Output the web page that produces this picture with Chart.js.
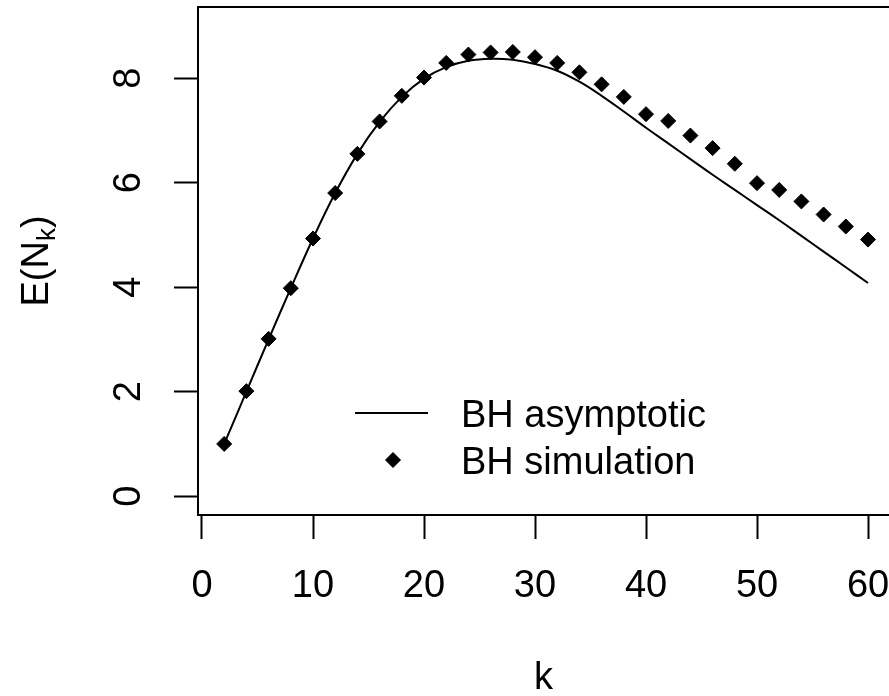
<!DOCTYPE html>
<html>
<head>
<meta charset="utf-8">
<script src="https://cdn.jsdelivr.net/npm/chart.js@4/dist/chart.umd.min.js"></script>
<style>
  html, body { margin: 0; padding: 0; background: #ffffff; overflow: hidden; }
  canvas { display: block; }
</style>
</head>
<body>
<canvas id="chart" width="889" height="696"></canvas>
<script>
// ---- data ----
const kValues = [2, 4, 6, 8, 10, 12, 14, 16, 18, 20, 22, 24, 26, 28, 30,
                 32, 34, 36, 38, 40, 42, 44, 46, 48, 50, 52, 54, 56, 58, 60];
const bhAsymptotic = [1.00, 2.00, 3.00, 3.98, 4.93, 5.80, 6.55, 7.16, 7.64, 7.99,
                      8.21, 8.33, 8.37, 8.35, 8.27, 8.14, 7.93, 7.66, 7.36, 7.05,
                      6.75, 6.45, 6.15, 5.86, 5.57, 5.28, 4.98, 4.68, 4.38, 4.08];
const bhSimulation = [1.00, 2.01, 3.01, 3.98, 4.93, 5.80, 6.55, 7.17, 7.66, 8.01,
                      8.29, 8.45, 8.49, 8.50, 8.40, 8.29, 8.11, 7.88, 7.64, 7.31,
                      7.18, 6.90, 6.66, 6.36, 5.99, 5.86, 5.64, 5.39, 5.16, 4.91];
const xTicks = [0, 10, 20, 30, 40, 50, 60];
const yTicks = [0, 2, 4, 6, 8];
const seriesNames = ['BH asymptotic', 'BH simulation'];
const xTitle = 'k';
const yTitleParts = ['E(N', 'k', ')'];   // E(N_k) with subscript k

const FONT = '"Liberation Sans", Arial, Helvetica, sans-serif';
const toPts = (ys) => kValues.map((k, i) => ({ x: k, y: ys[i] }));

const tickGrid = {
  display: true, drawOnChartArea: false, drawTicks: true,
  tickLength: 24, tickWidth: 2, tickColor: '#000000'
};
const axisBorder = { display: true, color: '#000000', width: 2 };
const noPad = (s) => { s.paddingTop = 0; s.paddingBottom = 0; s.paddingLeft = 0; s.paddingRight = 0; };

// legend + y title drawn as real canvas text
const extras = {
  id: 'extras',
  afterDraw(chart) {
    const ctx = chart.ctx;
    const ds0 = chart.data.datasets[0];
    const ds1 = chart.data.datasets[1];
    ctx.save();
    // legend line sample
    ctx.strokeStyle = ds0.borderColor;
    ctx.lineWidth = ds0.borderWidth;
    ctx.beginPath();
    ctx.moveTo(355, 413);
    ctx.lineTo(428, 413);
    ctx.stroke();
    // legend diamond sample
    const r = ds1.pointRadius;
    const cx = 393, cy = 460;
    ctx.fillStyle = ds1.pointBackgroundColor;
    ctx.strokeStyle = ds1.pointBorderColor;
    ctx.lineWidth = ds1.pointBorderWidth;
    ctx.beginPath();
    ctx.moveTo(cx - r, cy);
    ctx.lineTo(cx, cy - r);
    ctx.lineTo(cx + r, cy);
    ctx.lineTo(cx, cy + r);
    ctx.closePath();
    ctx.fill();
    ctx.stroke();
    // legend texts
    ctx.fillStyle = '#000000';
    ctx.font = '38px ' + FONT;
    ctx.textAlign = 'left';
    ctx.textBaseline = 'alphabetic';
    ctx.fillText(ds0.label, 461, 427);
    ctx.fillText(ds1.label, 461, 474);

    // y-axis title with subscript, rotated
    const mainFont = '38px ' + FONT;
    const subFont = '26px ' + FONT;
    ctx.font = mainFont;
    const w1 = ctx.measureText(yTitleParts[0]).width;
    const w3 = ctx.measureText(yTitleParts[2]).width;
    ctx.font = subFont;
    const w2 = ctx.measureText(yTitleParts[1]).width;
    const total = w1 + w2 + w3;
    const centerY = (chart.chartArea.top + chart.chartArea.bottom) / 2;
    ctx.translate(48, centerY + total / 2);
    ctx.rotate(-Math.PI / 2);
    ctx.font = mainFont;
    ctx.fillText(yTitleParts[0], 0, 0);
    ctx.font = subFont;
    ctx.fillText(yTitleParts[1], w1, 7);
    ctx.font = mainFont;
    ctx.fillText(yTitleParts[2], w1 + w2, 0);
    ctx.restore();
  }
};

new Chart(document.getElementById('chart'), {
  type: 'line',
  data: {
    datasets: [
      {
        label: seriesNames[0],
        data: toPts(bhAsymptotic),
        borderColor: '#000000',
        borderWidth: 2,
        pointRadius: 0,
        fill: false,
        tension: 0.4
      },
      {
        label: seriesNames[1],
        data: toPts(bhSimulation),
        showLine: false,
        pointStyle: 'rectRot',
        pointRadius: 7.5,
        pointBackgroundColor: '#000000',
        pointBorderColor: '#000000',
        pointBorderWidth: 1
      }
    ]
  },
  options: {
    responsive: false,
    animation: false,
    devicePixelRatio: 1,
    layout: { padding: 0, autoPadding: false },
    plugins: { legend: { display: false }, tooltip: { enabled: false } },
    scales: {
      x: {
        type: 'linear', position: 'bottom', min: -0.36, max: 61.89,
        afterBuildTicks: (s) => { s.ticks = xTicks.map(v => ({ value: v })); },
        afterFit: (s) => { s.height = 696 - 515; noPad(s); },
        grid: tickGrid,
        border: axisBorder,
        ticks: {
          color: '#000000', font: { family: FONT, size: 38 },
          padding: 25, autoSkip: false, minRotation: 0, maxRotation: 0
        },
        title: {
          display: true, text: xTitle, color: '#000000',
          font: { family: FONT, size: 38, lineHeight: 1 },
          padding: { top: 0, bottom: -1.5 }
        }
      },
      x2: {
        type: 'linear', position: 'top', min: -0.36, max: 61.89,
        afterFit: (s) => { s.height = 7; noPad(s); },
        grid: { display: false },
        ticks: { display: false },
        border: axisBorder
      },
      y: {
        type: 'linear', position: 'left', min: -0.36, max: 9.36,
        afterBuildTicks: (s) => { s.ticks = yTicks.map(v => ({ value: v })); },
        afterFit: (s) => { s.width = 198; noPad(s); },
        grid: tickGrid,
        border: axisBorder,
        ticks: {
          color: '#000000', font: { family: FONT, size: 38 },
          padding: 34, autoSkip: false, minRotation: 90, maxRotation: 90,
          crossAlign: 'center'
        }
      }
    }
  },
  plugins: [extras]
});
</script>
</body>
</html>
